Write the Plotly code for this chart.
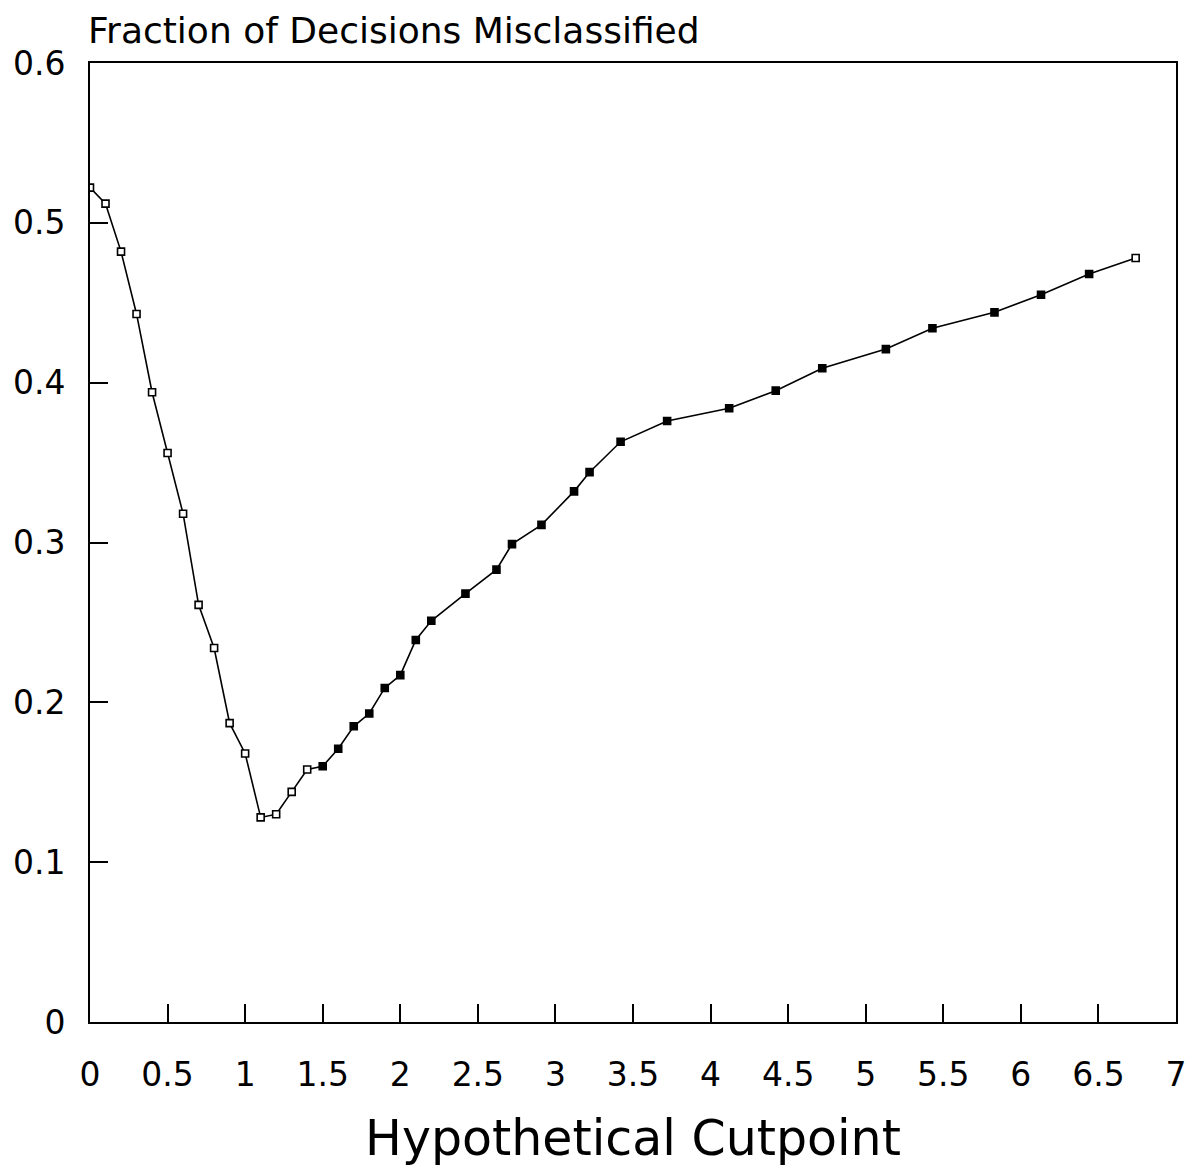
import plotly.graph_objects as go

# Data
cutpoint = [0.0, 0.1, 0.2, 0.3, 0.4, 0.5, 0.6, 0.7, 0.8, 0.9, 1.0, 1.1,
            1.2, 1.3, 1.4, 1.5, 1.6, 1.7, 1.8, 1.9, 2.0, 2.1, 2.2,
            2.42, 2.62, 2.72, 2.91, 3.12, 3.22, 3.42, 3.72, 4.12, 4.42,
            4.72, 5.13, 5.43, 5.83, 6.13, 6.44, 6.74]
misclassified = [0.522, 0.512, 0.482, 0.443, 0.394, 0.356, 0.318, 0.261,
                 0.234, 0.187, 0.168, 0.128, 0.130, 0.144, 0.158, 0.160,
                 0.171, 0.185, 0.193, 0.209, 0.217, 0.239, 0.251, 0.268,
                 0.283, 0.299, 0.311, 0.332, 0.344, 0.363, 0.376, 0.384,
                 0.395, 0.409, 0.421, 0.434, 0.444, 0.455, 0.468, 0.478]
hollow_count = 15  # first markers drawn hollow, the last one too

x_ticks = [0, 0.5, 1, 1.5, 2, 2.5, 3, 3.5, 4, 4.5, 5, 5.5, 6, 6.5, 7]
x_tick_labels = ["0", "0.5", "1", "1.5", "2", "2.5", "3", "3.5", "4",
                 "4.5", "5", "5.5", "6", "6.5", "7"]
y_ticks = [0, 0.1, 0.2, 0.3, 0.4, 0.5, 0.6]
y_tick_labels = ["0", "0.1", "0.2", "0.3", "0.4", "0.5", "0.6"]

n = len(cutpoint)
fill = ["white" if (i < hollow_count or i == n - 1) else "black" for i in range(n)]

fig = go.Figure()
fig.add_trace(go.Scatter(
    x=cutpoint, y=misclassified, mode="lines+markers",
    line=dict(color="black", width=1.6),
    marker=dict(symbol="square", size=7, color=fill,
                line=dict(color="black", width=1.6)),
    showlegend=False, hoverinfo="x+y",
))

fig.update_layout(
    width=1200, height=1166,
    paper_bgcolor="white", plot_bgcolor="white",
    margin=dict(l=82, r=32, t=55, b=152, autoexpand=False),
    font=dict(family="DejaVu Sans", color="black"),
    title=dict(text="Fraction of Decisions Misclassified",
               x=80 / 1200, xref="container", xanchor="left",
               y=1 - 22 / 1166, yref="container", yanchor="middle",
               font=dict(family="DejaVu Sans", size=36, color="black")),
)

fig.update_xaxes(
    range=[0, 7], tickvals=x_ticks, ticktext=x_tick_labels,
    ticks="inside", ticklen=18, tickwidth=1.6, tickcolor="black",
    showline=True, linecolor="black", linewidth=1.6, mirror=True,
    showgrid=False, zeroline=False,
    tickfont=dict(family="DejaVu Sans", size=33, color="black"),
    ticklabelstandoff=23,
    title=dict(text="Hypothetical Cutpoint", standoff=27,
               font=dict(family="DejaVu Sans", size=49, color="black")),
)
fig.update_yaxes(
    range=[0, 0.6], tickvals=y_ticks, ticktext=y_tick_labels,
    ticks="inside", ticklen=18, tickwidth=1.6, tickcolor="black",
    showline=True, linecolor="black", linewidth=1.6, mirror=True,
    showgrid=False, zeroline=False,
    tickfont=dict(family="DejaVu Sans", size=33, color="black"),
    ticklabelstandoff=16,
)

fig.write_html("out.html")
